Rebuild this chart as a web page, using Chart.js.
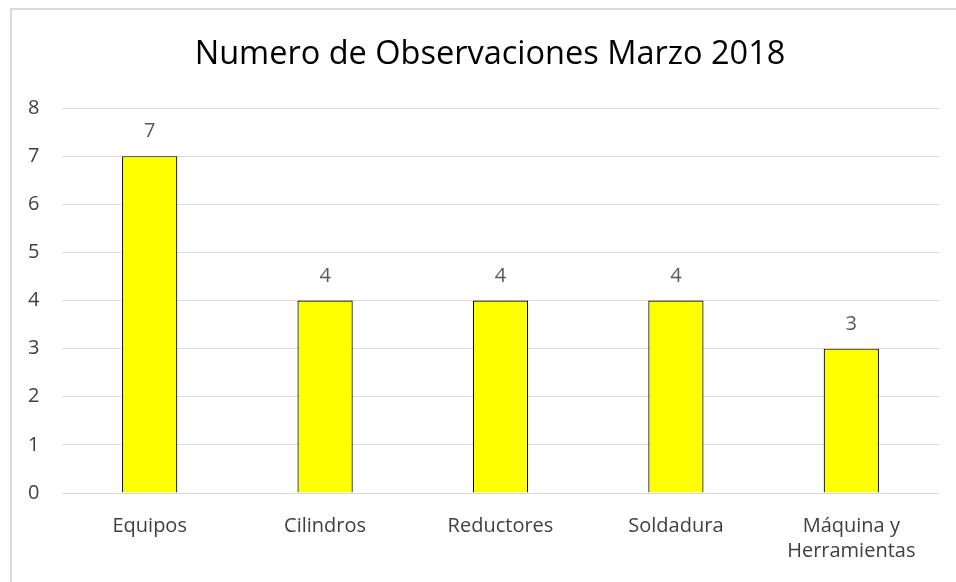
<!DOCTYPE html>
<html>
<head>
<meta charset="utf-8">
<script src="https://cdn.jsdelivr.net/npm/chart.js@4.4.1/dist/chart.umd.min.js"></script>
<style>
  html, body { margin: 0; padding: 0; background: #fff; }
  #wrap { position: relative; width: 956px; height: 582px; overflow: hidden; }
  #frame { position: absolute; left: 10px; top: 8px; width: 960px; height: 600px; border: 2px solid #d9d9d9; box-sizing: border-box; pointer-events: none; }
  canvas { position: absolute; left: 0; top: 0; }
</style>
</head>
<body>
<div id="wrap">
  <canvas id="c" width="956" height="582"></canvas>
  <div id="frame"></div>
</div>
<script>
const titleText = 'Numero de Observaciones Marzo 2018';
const categories = ['Equipos', 'Cilindros', 'Reductores', 'Soldadura', ['Máquina y', 'Herramientas']];
const observaciones = [7, 4, 4, 4, 3];
const yTicks = [0, 1, 2, 3, 4, 5, 6, 7, 8];

const FONT = '"Open Sans", Lato, sans-serif';
const AXIS_TEXT = '#404040';
const LABEL_TEXT = '#595959';

const valueLabels = {
  id: 'valueLabels',
  afterDatasetsDraw(chart) {
    const ctx = chart.ctx;
    const meta = chart.getDatasetMeta(0);
    ctx.save();
    ctx.font = '20px ' + FONT;
    ctx.fillStyle = LABEL_TEXT;
    ctx.textAlign = 'center';
    ctx.textBaseline = 'alphabetic';
    meta.data.forEach((bar, i) => {
      ctx.fillText(String(chart.data.datasets[0].data[i]), bar.x, bar.y - 19);
    });
    ctx.restore();
  }
};

new Chart(document.getElementById('c'), {
  type: 'bar',
  data: {
    labels: categories,
    datasets: [{
      label: 'Observaciones',
      data: observaciones,
      backgroundColor: '#FFFF00',
      borderColor: '#000000',
      borderWidth: 1.2,
      categoryPercentage: 1,
      barPercentage: 0.315
    }]
  },
  options: {
    responsive: false,
    animation: false,
    devicePixelRatio: 1,
    layout: { padding: { left: 41, right: 17, top: 35, bottom: 0 } },
    plugins: {
      legend: { display: false },
      tooltip: { enabled: false },
      title: {
        display: true,
        text: titleText,
        color: '#000000',
        font: { family: FONT, size: 32.5, weight: 'normal' },
        padding: { top: 0, bottom: 34 }
      }
    },
    scales: {
      x: {
        grid: { display: false },
        border: { display: false },
        ticks: {
          color: AXIS_TEXT,
          font: { family: FONT, size: 20, lineHeight: 1.25 },
          padding: 13,
          maxRotation: 0,
          autoSkip: false
        },
        afterFit(scale) { scale.height = 89; }
      },
      y: {
        min: 0,
        max: 8,
        afterBuildTicks(scale) { scale.ticks = yTicks.map(v => ({ value: v })); },
        grid: { color: '#d9d9d9', lineWidth: 1, drawTicks: false },
        border: { display: false },
        ticks: {
          color: AXIS_TEXT,
          font: { family: FONT, size: 20 },
          mirror: true,
          crossAlign: 'near',
          padding: -34
        },
        afterFit(scale) { scale.width = 21; }
      }
    }
  },
  plugins: [valueLabels]
});
</script>
</body>
</html>
